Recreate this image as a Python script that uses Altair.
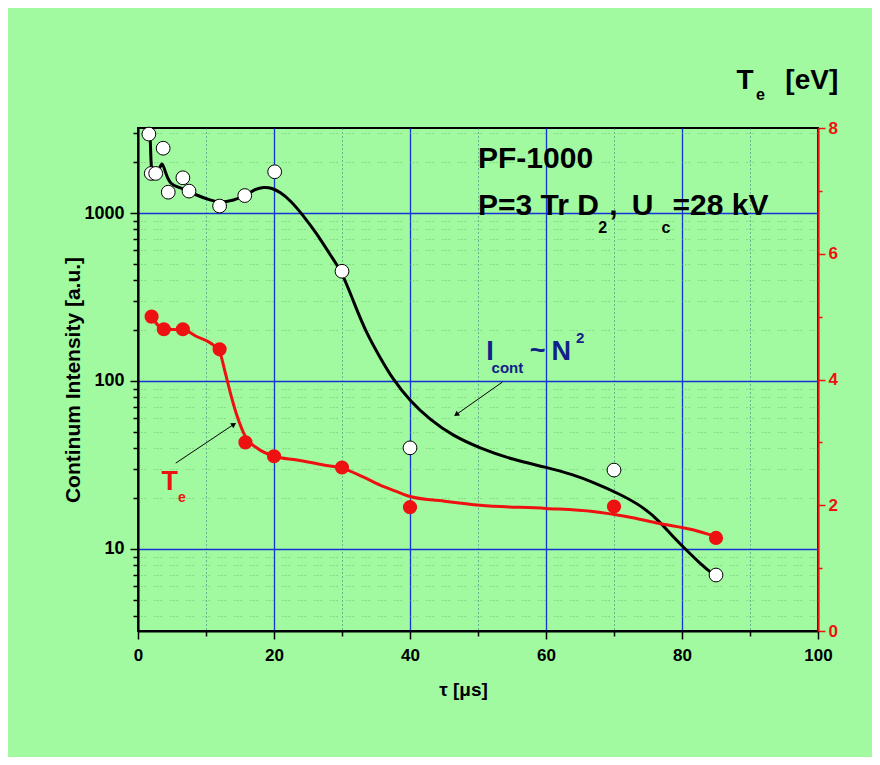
import altair as alt
import pandas as pd

# ---------------- data ----------------
# continuum intensity (open circles), left log axis
icont_x = [1.6, 1.95, 2.6, 3.7, 4.45, 6.6, 7.5, 12.0, 15.7, 20.1, 30.0, 40.0, 70.0, 85.0]
icont_val = [2950, 1720, 1720, 2430, 1330, 1620, 1350, 1100, 1270, 1760, 450, 40, 29.5, 7.0]

# smooth black curve
icont_fit_x = [1.8, 1.88, 1.95, 2.3, 2.6, 3.1, 3.55, 4.0, 4.8, 6.25, 8.7, 10.7, 12.0, 14.1,
               15.8, 17.25, 18.5, 19.7, 20.9, 22.4, 24.1, 26.3, 28.3, 30.0, 31.7, 33.6, 35.6,
               37.5, 40.0, 42.9, 46.3, 50.3, 55.1, 60.0, 64.0, 66.9, 70.8, 74.2, 76.7, 78.6,
               80.6, 82.5, 84.5, 85.0]
icont_fit_val = [2750, 2250, 1800, 1700, 1670, 1800, 2050, 1750, 1460, 1420, 1270, 1190, 1150,
                 1190, 1270, 1390, 1430, 1410, 1330, 1190, 990, 753, 560, 446, 296, 192, 138,
                 102, 76, 59, 47.2, 39.8, 34.0, 30.7, 27.7, 25.0, 21.3, 17.9, 14.6, 11.9, 9.9,
                 8.3, 7.1, 6.9]

# electron temperature (red dots), right axis
te_x = [2.0, 3.8, 6.6, 12.0, 15.8, 20.0, 30.0, 40.0, 70.0, 85.0]
te_val = [5.0, 4.8, 4.8, 4.48, 3.0, 2.78, 2.6, 1.97, 1.98, 1.48]

# smooth red curve
te_fit_x = [2.0, 3.8, 6.6, 8.7, 10.65, 12.0, 12.85, 13.6, 14.6, 15.8, 17.5, 20.0, 23.4, 27.3,
            30.0, 33.1, 35.6, 38.0, 40.0, 45.4, 50.3, 60.0, 66.9, 71.8, 76.7, 81.6, 85.0]
te_fit_val = [5.0, 4.80, 4.79, 4.68, 4.58, 4.44, 4.10, 3.78, 3.41, 3.09, 2.91, 2.78, 2.72, 2.64,
              2.59, 2.45, 2.32, 2.22, 2.14, 2.06, 2.00, 1.95, 1.90, 1.82, 1.71, 1.61, 1.50]

# axis ticks
x_ticks = list(range(0, 101, 10))
y_ticks = [4, 5, 6, 7, 8, 9, 10, 20, 30, 40, 50, 60, 70, 80, 90,
           100, 200, 300, 400, 500, 600, 700, 800, 900, 1000, 2000, 3000]
te_ticks = [0, 1, 2, 3, 4, 5, 6, 7, 8]

# annotation texts (anchored in data units: x in µs, y in Te units)
big_txt = ["PF-1000", "P=3 Tr D", ",", "U", "=28 kV"]
big_x = [50.0, 50.0, 69.3, 72.6, 78.6]
big_y = [7.36, 6.62, 6.62, 6.62, 6.62]
sub_txt = ["2", "c"]
sub_x = [67.7, 77.0]
sub_y = [6.33, 6.33]

icont_txt = ["I", "~", "N"]
icont_tx = [51.2, 57.6, 60.8]
icont_ty = [4.31, 4.33, 4.31]
icont_sub_txt = ["cont", "2"]
icont_sub_x = [52.0, 64.4]
icont_sub_y = [4.10, 4.58]

te_lab_txt = ["T"]
te_lab_x = [3.46]
te_lab_y = [2.24]
te_lab_sub = ["e"]
te_lab_sub_x = [5.9]
te_lab_sub_y = [2.05]

ttl_txt = ["T", "[eV]"]
ttl_x = [88.0, 95.2]
ttl_y = [8.62, 8.62]
ttl_sub = ["e"]
ttl_sub_x = [90.9]
ttl_sub_y = [8.45]

# arrows: tail (x, t) -> head (hx, ht)
arr1 = dict(x=[53.6], t=[3.96], hx=[46.9], ht=[3.45])
arr2 = dict(x=[5.55], t=[2.67], hx=[14.0], ht=[3.28])

# ---------------- styles ----------------
FONT = "Liberation Sans"
GREEN = "#A1FA9F"
BLUE = "#1533d6"
TEAL = "#2e6f7e"
MINOR = "#6cbf78"
RED = "#EE1111"
NAVY = "#14208A"

major_x = "datum.value % 20 == 0"
major_y = "datum.value == 10 || datum.value == 100 || datum.value == 1000"
major_t = "datum.value % 2 == 0"

x_enc = alt.X(
    "x:Q",
    scale=alt.Scale(domain=[0, 100], nice=False, zero=False),
    axis=alt.Axis(
        values=x_ticks,
        labelExpr=f"{major_x} ? format(datum.value, 'd') : ''",
        title="τ [μs]",
        titleX=325, titleAlign="center",
        grid=True,
        gridColor={"condition": {"test": major_x, "value": BLUE}, "value": TEAL},
        gridDash={"condition": {"test": major_x, "value": []}, "value": [1, 3]},
        gridWidth={"condition": {"test": major_x, "value": 1.3}, "value": 1},
        tickSize={"condition": {"test": major_x, "value": 8}, "value": 5},
        tickColor="black", tickWidth=1.5,
        domainColor="black", domainWidth=2,
        labelFont=FONT, labelFontSize=17, labelFontWeight="bold", labelColor="black",
        labelPadding=8, labelFlush=False, labelOverlap=False,
        titleFont=FONT, titleFontSize=19, titleFontWeight="bold", titleColor="black",
        titlePadding=17,
    ),
)

yI_enc = alt.Y(
    "v:Q",
    scale=alt.Scale(type="log", domain=[3.25, 3206], nice=False),
    axis=alt.Axis(
        orient="left",
        values=y_ticks,
        labelExpr=f"{major_y} ? format(datum.value, 'd') : ''",
        title="Continum Intensity [a.u.]",
        grid=True,
        gridColor={"condition": {"test": major_y, "value": BLUE}, "value": MINOR},
        gridDash={"condition": {"test": major_y, "value": []}, "value": [1, 2, 1, 2, 1, 9]},
        gridWidth={"condition": {"test": major_y, "value": 1.5}, "value": 1},
        tickSize={"condition": {"test": major_y, "value": 8}, "value": 5},
        tickColor="black", tickWidth=1.5,
        domainColor="black", domainWidth=2,
        labelFont=FONT, labelFontSize=18, labelFontWeight="bold", labelColor="black",
        labelPadding=6, labelOverlap=False, labelFlush=False,
        titleFont=FONT, titleFontSize=21, titleFontWeight="bold", titleColor="black",
        titlePadding=0,
    ),
)

yT_enc = alt.Y(
    "t:Q",
    scale=alt.Scale(domain=[0, 8], nice=False, zero=False),
    axis=alt.Axis(
        orient="right",
        values=te_ticks,
        labelExpr=f"{major_t} ? format(datum.value, 'd') : ''",
        title=None,
        grid=False,
        tickSize={"condition": {"test": major_t, "value": 7}, "value": 4},
        tickColor=RED, tickWidth=1.5,
        domainColor=RED, domainWidth=2,
        labelFont=FONT, labelFontSize=17, labelFontWeight="bold", labelColor=RED,
        labelPadding=3, labelOverlap=False, labelFlush=False,
    ),
)

# ---------------- layers ----------------
df_fitI = pd.DataFrame({"x": icont_fit_x, "v": icont_fit_val})
df_ptsI = pd.DataFrame({"x": icont_x, "v": icont_val})
df_fitT = pd.DataFrame({"x": te_fit_x, "t": te_fit_val})
df_ptsT = pd.DataFrame({"x": te_x, "t": te_val})

lineI = alt.Chart(df_fitI).mark_line(color="black", strokeWidth=3, interpolate="basis").encode(
    x=x_enc, y=yI_enc)
ptsI = alt.Chart(df_ptsI).mark_circle(color="white", stroke="black", strokeWidth=1,
                                      size=190, opacity=1).encode(x=x_enc, y=yI_enc)
layerA = alt.layer(lineI, ptsI)


def txt(texts, xs, ys, size, color, align="left"):
    d = pd.DataFrame({"x": xs, "t": ys, "s": texts})
    return alt.Chart(d).mark_text(align=align, baseline="alphabetic", font=FONT,
                                  fontWeight="bold", fontSize=size, color=color).encode(
        x=x_enc, y=yT_enc, text="s:N")


def arrow(a, angle):
    d = pd.DataFrame(a)
    r = alt.Chart(d).mark_rule(color="black", strokeWidth=1).encode(
        x=x_enc, y=yT_enc, x2="hx:Q", y2="ht:Q")
    dh = pd.DataFrame({"x": a["hx"], "t": a["ht"]})
    h = alt.Chart(dh).mark_point(shape="triangle", filled=True, color="black", size=35,
                                 opacity=1, angle=angle).encode(x=x_enc, y=yT_enc)
    return r, h


lineT = alt.Chart(df_fitT).mark_line(color=RED, strokeWidth=3, interpolate="monotone").encode(
    x=x_enc, y=yT_enc)
ptsT = alt.Chart(df_ptsT).mark_circle(color=RED, size=200, opacity=1).encode(x=x_enc, y=yT_enc)

r1, h1 = arrow(arr1, 235)
r2, h2 = arrow(arr2, 57)

layerB = alt.layer(
    lineT, ptsT,
    txt(big_txt, big_x, big_y, 30, "black"),
    txt(sub_txt, sub_x, sub_y, 16, "black"),
    txt(icont_txt, icont_tx, icont_ty, 27, NAVY),
    txt(icont_sub_txt, icont_sub_x, icont_sub_y, 15, NAVY),
    txt(te_lab_txt, te_lab_x, te_lab_y, 27, RED),
    txt(te_lab_sub, te_lab_sub_x, te_lab_sub_y, 14, RED),
    txt(ttl_txt, ttl_x, ttl_y, 28, "black"),
    txt(ttl_sub, ttl_sub_x, ttl_sub_y, 16, "black"),
    r1, h1, r2, h2,
)

chart = alt.layer(layerA, layerB).resolve_scale(y="independent").properties(
    width=680, height=503,
    padding={"left": 130, "top": 120, "right": 54, "bottom": 126},
    autosize=alt.AutoSizeParams(type="none"),
).configure(background=GREEN).configure_view(stroke="black", strokeWidth=2)

chart.save("out.html", embed_options={"renderer": "svg", "actions": False})
